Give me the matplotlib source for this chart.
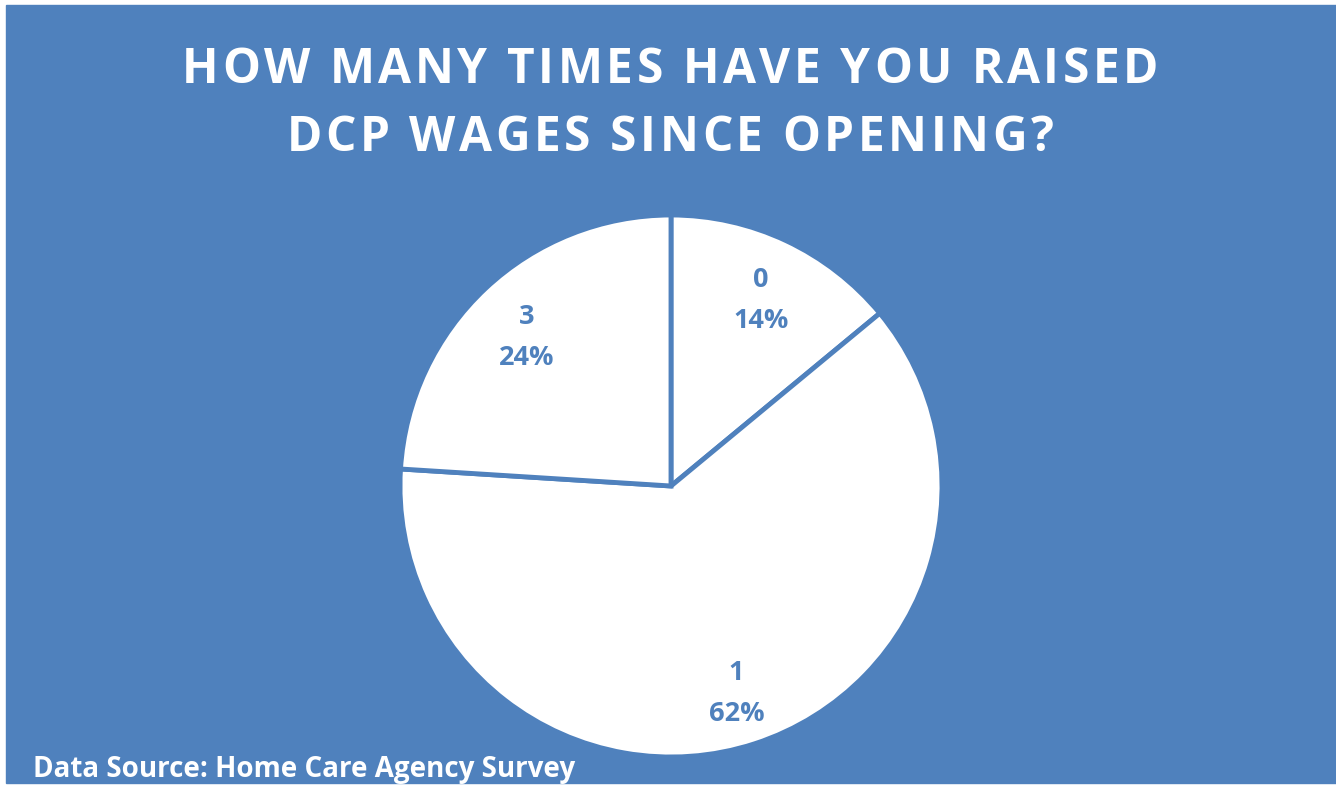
import matplotlib.pyplot as plt

# survey answers: number of wage raises since opening
categories = ['0', '1', '3']
shares = [14, 62, 24]
title_lines = ['HOW MANY TIMES HAVE YOU RAISED', 'DCP WAGES SINCE OPENING?']
source = 'Data Source: Home Care Agency Survey'

blue = '#4F81BD'
W, H = 1336, 788

fig = plt.figure(figsize=(W / 100, H / 100), dpi=100)
fig.patch.set_facecolor('white')

# blue panel, thin white strip on left, top and bottom
panel = plt.Rectangle((6 / W, 5 / H), 1 - 6 / W, 1 - 10 / H,
                      transform=fig.transFigure, color=blue, zorder=0)
fig.patches.append(panel)

# pie axes centred at (671, 486) px
cx, cy, r = 671, 486, 271
ax = fig.add_axes([(cx - r) / W, (H - cy - r) / H, 2 * r / W, 2 * r / H])
ax.set_zorder(2)
ax.set_facecolor('none')

labels = [f'{c}\n{s}%' for c, s in zip(categories, shares)]
wedges, texts = ax.pie(shares, labels=labels, startangle=90, counterclock=False,
                       colors=['white'] * 3, labeldistance=0.78,
                       wedgeprops=dict(edgecolor=blue, linewidth=3.5),
                       textprops=dict(color=blue, fontsize=19.5, fontweight='bold',
                                      family='Open Sans', linespacing=1.75))
for t in texts:
    t.set_ha('center')
    t.set_va('center')
    # nudge labels a little lower inside their slices
    x, y = t.get_position()
    t.set_position((x, y - 6 / r))
ax.set_xlim(-1, 1)
ax.set_ylim(-1, 1)
ax.set_aspect('equal')

renderer = fig.canvas.get_renderer()
title_font = dict(color='white', fontsize=34.5, fontweight='bold', family='Open Sans')


def text_width(s):
    t = fig.text(0, 0, s, **title_font)
    w = t.get_window_extent(renderer).width
    t.remove()
    return w


def tracked_line(line, y, track):
    # lay out one title line letter by letter with extra spacing
    ref = text_width('I')
    adv = [text_width(c + 'I') - ref for c in line]
    total = sum(adv) + track * (len(line) - 1)
    x = 670 - total / 2
    for c, a in zip(line, adv):
        fig.text(x / W, 1 - y / H, c, ha='left', va='baseline', **title_font)
        x += a + track


for i, line in enumerate(title_lines):
    tracked_line(line, 83 + 68 * i, 3.6)

fig.text(33 / W, 1 - 777 / H, source, ha='left', va='baseline', color='white',
         fontsize=20, fontweight='bold', family='Open Sans')

fig.savefig('out.png', dpi=100, facecolor=fig.get_facecolor())
